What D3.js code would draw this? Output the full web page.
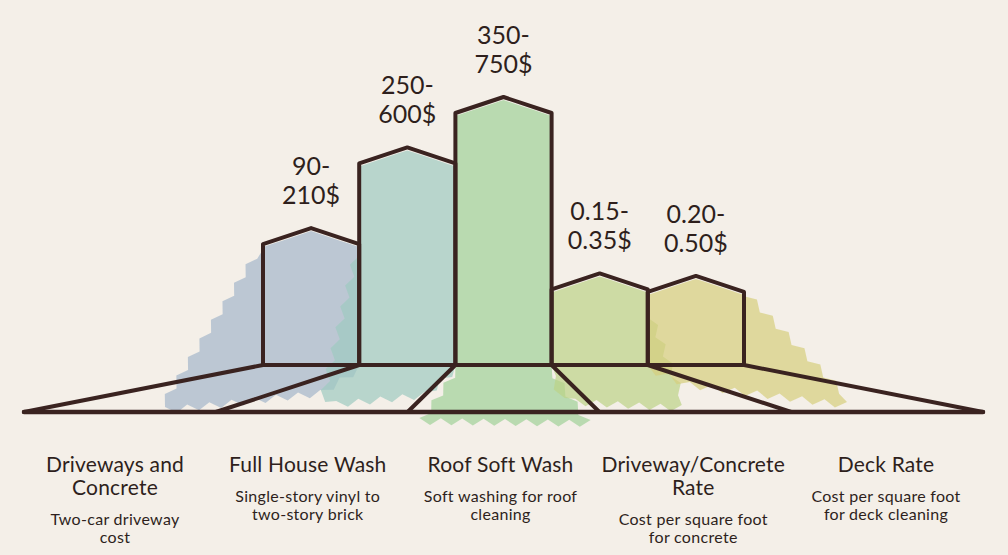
<!DOCTYPE html>
<meta charset="utf-8">
<style>
body {
  margin: 0;
  background: #f4efe8;
}
.outline {
  fill: none;
  stroke: #3a2320;
  stroke-width: 4px;
  stroke-linejoin: round;
  stroke-linecap: round;
}
.value, .cat, .desc {
  font-family: Lato, "Noto Sans", sans-serif;
  fill: #2e1f1c;
  text-anchor: middle;
}
.value { font-size: 25px; }
.cat { font-size: 21px; letter-spacing: 0.2px; }
.desc { font-size: 16px; letter-spacing: 0.3px; }
</style>
<body>
<script src="https://d3js.org/d3.v7.min.js"></script>
<script>

var width = 1008,
    height = 555;

// data
var categories = ["Driveways and Concrete", "Full House Wash", "Roof Soft Wash", "Driveway/Concrete Rate", "Deck Rate"];
var categoryLines = [["Driveways and", "Concrete"], ["Full House Wash"], ["Roof Soft Wash"], ["Driveway/Concrete", "Rate"], ["Deck Rate"]];
var descLines = [["Two-car driveway", "cost"], ["Single-story vinyl to", "two-story brick"], ["Soft washing for roof", "cleaning"], ["Cost per square foot", "for concrete"], ["Cost per square foot", "for deck cleaning"]];
var priceLow = ["90", "250", "350", "0.15", "0.20"];
var priceHigh = ["210", "600", "750", "0.35", "0.50"];
var barLevel = [48, 80, 100, 30, 29]; // relative bar height, tallest = 100

var colors = ["#a4b7cb", "#9ecbc0", "#9fd198", "#bcd388", "#d6ce7e"];
// brush smear under each bar: [dxLeft, dyLeft, dxRight, dyRight, attachLeft, attachRight]
// attach = where along the bar side the smear starts (0 = shoulder, 1 = bottom)
var smear = [
  [-98, 42, -39, 25, 0.02, 1],
  [-34, 37, -31, 27, 0.45, 1],
  [-36, 53, 39, 55, 1, 1],
  [13, 33, 34, 40, 1, 0.35],
  [42, 17, 103, 37, 1, 0.02]
];

var roof = 16,
    bottom = 365,
    baseY = 412;

var x = d3.scaleBand().domain(categories).range([263, 744]);
var base = d3.scaleBand().domain(categories).range([24, 983]);
var y = d3.scaleLinear().domain([0, 100]).range([bottom, 113]);
var labelX = d3.scalePoint().domain(categories).range([115, 886]);

var svg = d3.select("body").append("svg")
    .attr("width", width)
    .attr("height", height);

// jagged brush-like edge between two points
function jag(p, q, c, amp) {
  var dx = q[0] - p[0], dy = q[1] - p[1],
      L = Math.hypot(dx, dy);
  if (L < 1) return [p];
  var n = Math.max(2, Math.round(L / 11)),
      nx = -dy / L, ny = dx / L,
      mx = (p[0] + q[0]) / 2 - c[0], my = (p[1] + q[1]) / 2 - c[1];
  if (nx * mx + ny * my < 0) { nx = -nx; ny = -ny; }
  var pts = [];
  for (var k = 0; k < n; k++) {
    var o = (k % 2) ? amp : 0;
    pts.push([p[0] + dx * k / n + nx * o, p[1] + dy * k / n + ny * o]);
  }
  return pts;
}

var fills = svg.append("g");

categories.forEach(function(c, i) {
  var x0 = x(c), x1 = x0 + x.bandwidth(), xm = (x0 + x1) / 2,
      ys = y(barLevel[i]) + 3, s = smear[i];
  var ring = [
    [[x0, ys], 0], [[xm, ys - roof], 0], [[x1, ys], 0],
    [[x1, ys + s[5] * (bottom - ys)], 7],
    [[x1 + s[2], bottom + s[3]], 7],
    [[x0 + s[0], bottom + s[1]], 7],
    [[x0, ys + s[4] * (bottom - ys)], 0]
  ];
  var cen = d3.polygonCentroid(ring.map(function(r) { return r[0]; }));
  var pts = [];
  ring.forEach(function(r, k) {
    var q = ring[(k + 1) % ring.length][0];
    pts = pts.concat(jag(r[0], q, cen, r[1]));
  });
  fills.append("path")
      .attr("d", "M" + pts.join("L") + "Z")
      .style("fill", colors[i])
      .style("fill-opacity", 0.7);
});

var lines = svg.append("g").attr("class", "outline");

// connectors from bar bottoms to the base line
categories.forEach(function(c) {
  lines.append("line")
      .attr("x1", x(c)).attr("y1", bottom)
      .attr("x2", base(c)).attr("y2", baseY);
});
var last = categories[categories.length - 1];
lines.append("line")
    .attr("x1", x(last) + x.bandwidth()).attr("y1", bottom)
    .attr("x2", base(last) + base.bandwidth()).attr("y2", baseY);
lines.append("line")
    .attr("x1", base(categories[0])).attr("y1", baseY)
    .attr("x2", base(last) + base.bandwidth()).attr("y2", baseY)
    .style("stroke-width", "4.5px");

// house-shaped bars
lines.selectAll(".bar")
    .data(categories)
  .enter().append("path")
    .attr("class", "bar")
    .attr("d", function(c, i) {
      var x0 = x(c), x1 = x0 + x.bandwidth(), ys = y(barLevel[i]);
      return "M" + [[x0, bottom], [x0, ys], [(x0 + x1) / 2, ys - roof], [x1, ys], [x1, bottom]].join("L") + "Z";
    });

// price labels
var val = svg.selectAll(".value")
    .data(categories)
  .enter().append("text")
    .attr("class", "value")
    .attr("transform", function(c, i) {
      return "translate(" + (x(c) + x.bandwidth() / 2) + "," + (y(barLevel[i]) - roof - 24) + ")";
    });
val.append("tspan").attr("x", 0).attr("y", -29).text(function(c, i) { return priceLow[i] + "-"; });
val.append("tspan").attr("x", 0).attr("y", 0).text(function(c, i) { return priceHigh[i] + "$"; });

// category titles and descriptions
categories.forEach(function(c, i) {
  var g = svg.append("g").attr("transform", "translate(" + labelX(c) + ",0)");
  var t = g.append("text").attr("class", "cat");
  categoryLines[i].forEach(function(s, k) {
    t.append("tspan").attr("x", 0).attr("y", 472 + k * 23).text(s);
  });
  var top = 472 + (categoryLines[i].length - 1) * 23 + 30;
  var d = g.append("text").attr("class", "desc");
  descLines[i].forEach(function(s, k) {
    d.append("tspan").attr("x", 0).attr("y", top + k * 18).text(s);
  });
});

</script>
